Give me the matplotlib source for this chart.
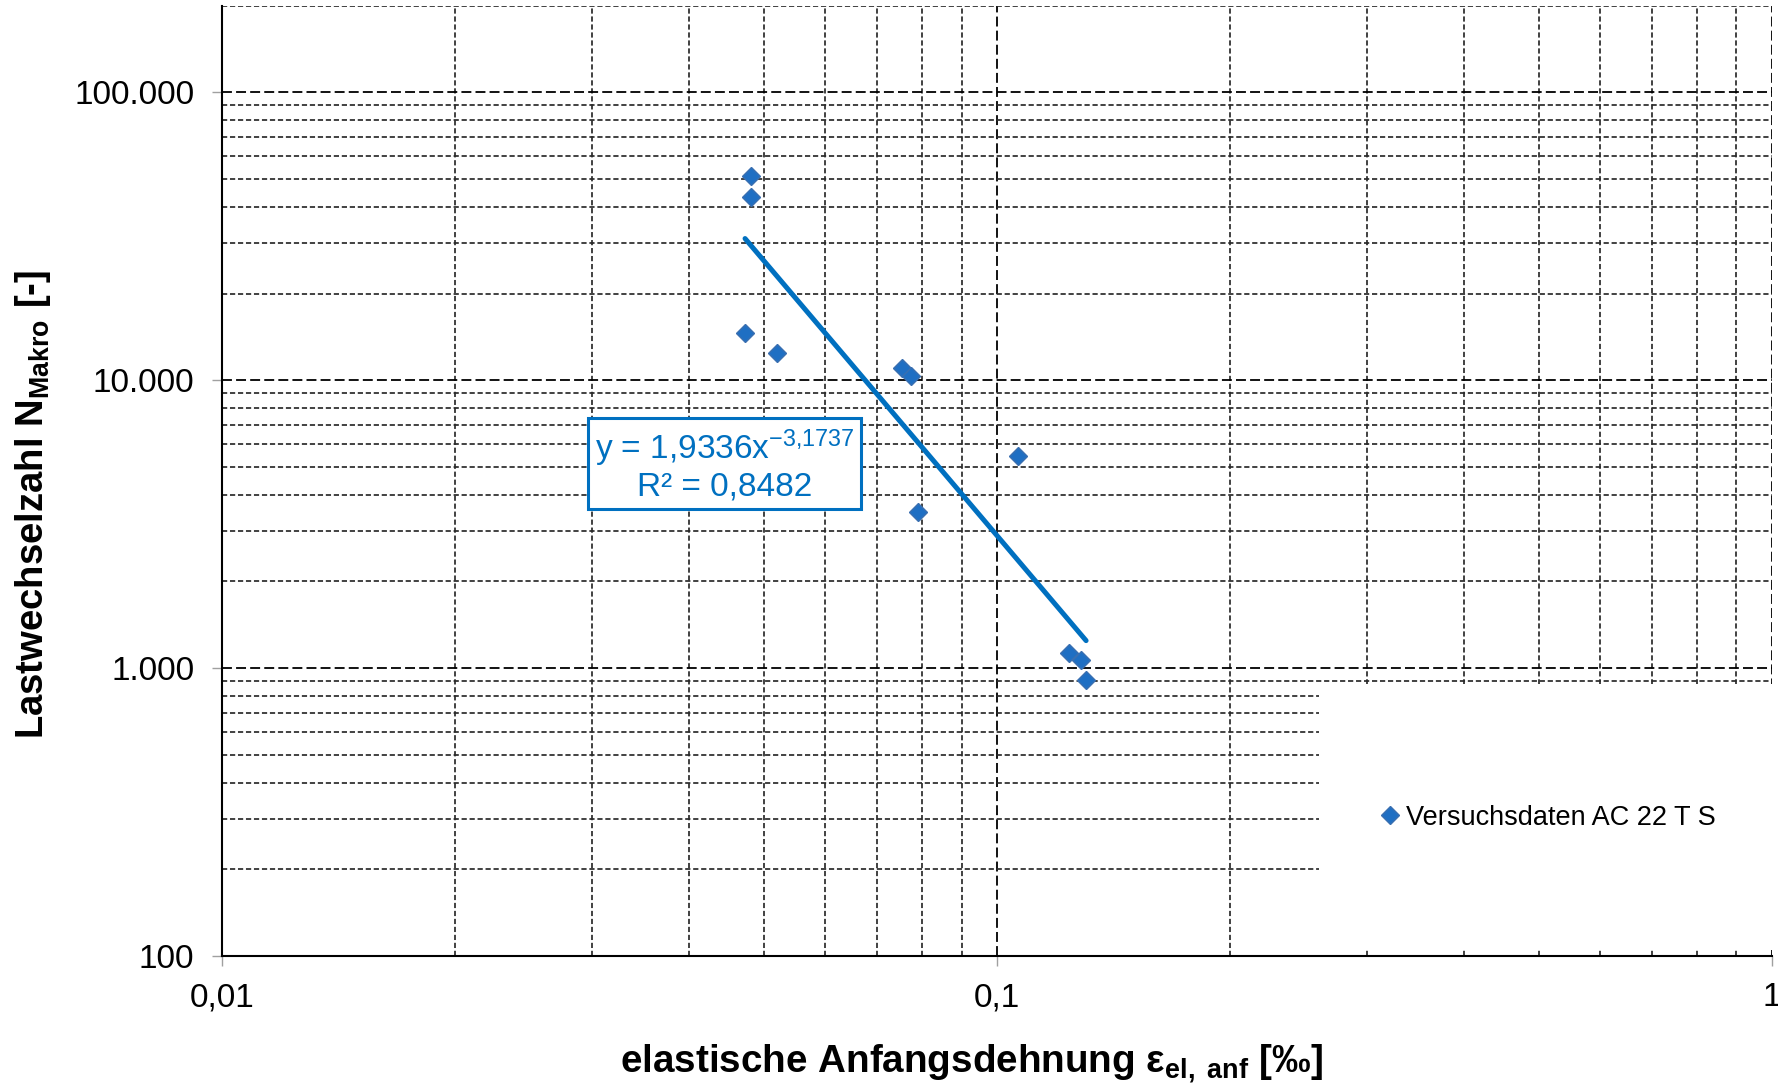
import matplotlib
matplotlib.use("Agg")
import matplotlib.pyplot as plt
import numpy as np
from matplotlib.ticker import FixedLocator, FixedFormatter, NullFormatter
from matplotlib.patches import Rectangle

plt.rcParams['font.family'] = ['Liberation Sans', 'DejaVu Sans']
plt.rcParams['mathtext.fontset'] = 'custom'
plt.rcParams['mathtext.rm'] = 'Liberation Sans'
plt.rcParams['mathtext.bf'] = 'Liberation Sans:bold'
plt.rcParams['mathtext.it'] = 'Liberation Sans:italic'
plt.rcParams['mathtext.default'] = 'regular'

# data
strain = [0.0481, 0.0482, 0.0473, 0.0520, 0.0753, 0.0774, 0.1064, 0.0791, 0.1239, 0.1285, 0.1303]
cycles = [51300, 43200, 14630, 12400, 11050, 10340, 5470, 3470, 1125, 1066, 906]
trend_coef = 1.9336
trend_exp = -3.1737
r2_text = "0,8482"
series_name = "Versuchsdaten AC 22 T S"
x_ticks = [0.01, 0.1, 1]
x_labels = ["0,01", "0,1", "1"]
y_ticks = [100, 1000, 10000, 100000]
y_labels = ["100", "1.000", "10.000", "100.000"]

blue = "#0070C0"

fig = plt.figure(figsize=(17.78, 10.87), dpi=100)
ax = fig.add_axes([0.1249, 0.1206, 0.8717, 0.8742])
ax.set_xscale('log')
ax.set_yscale('log')
ax.set_xlim(0.01, 1)
ax.set_ylim(100, 200000)

ax.xaxis.set_major_locator(FixedLocator(x_ticks))
ax.xaxis.set_major_formatter(FixedFormatter(x_labels))
ax.yaxis.set_major_locator(FixedLocator(y_ticks))
ax.yaxis.set_major_formatter(FixedFormatter(y_labels))
xminor = [m * 10.0**e for e in (-2, -1) for m in range(2, 10)]
yminor = [m * 10.0**e for e in (2, 3, 4, 5) for m in range(2, 10) if m * 10.0**e <= 200000]
ax.xaxis.set_minor_locator(FixedLocator(xminor))
ax.yaxis.set_minor_locator(FixedLocator(yminor))
ax.xaxis.set_minor_formatter(NullFormatter())
ax.yaxis.set_minor_formatter(NullFormatter())

ax.set_axisbelow(True)
ax.grid(which='major', color='#000000', linewidth=1.3, linestyle=(0, (5.5, 2.3)))
ax.grid(which='minor', color='#2a2a2a', linewidth=1.25, linestyle=(0, (3, 1.6)))

ax.tick_params(which='major', direction='out', length=7, width=1, color='#a0a0a0',
               labelsize=24, pad=13)
ax.tick_params(axis='x', which='major', pad=12)
ax.tick_params(which='minor', length=0)

for s in ['top', 'right']:
    ax.spines[s].set_visible(False)
for s in ['left', 'bottom']:
    ax.spines[s].set_linewidth(1.5)
    ax.spines[s].set_color('black')

# white legend area covering gridlines (lower right)
ax.add_patch(Rectangle((0.7075, 0.006), 0.2925, 0.28, transform=ax.transAxes,
                       facecolor='white', edgecolor='none', zorder=1))

# trend line
xt = np.array([min(strain), max(strain)])
yt = trend_coef * xt ** trend_exp
ax.plot(xt, yt, color=blue, linewidth=3.6, solid_capstyle='round', zorder=3)

# data points
ax.plot(strain, cycles, linestyle='none', marker='D', markersize=9,
        markerfacecolor='#1F6FC3', markeredgecolor='#3A6FB0', markeredgewidth=1,
        zorder=4, label=series_name)

leg = ax.legend(loc='center left', bbox_to_anchor=(0.748, 0.1455), frameon=False,
                fontsize=19.5, handlelength=0.6, handletextpad=0.3, borderaxespad=0,
                borderpad=0)

eq = "y = {}x$^{{-3{{,}}1737}}$\nR² = {}".format("1,9336", r2_text)
ax.text(0.3243, 0.5166, eq, transform=ax.transAxes, ha='center', va='center',
        fontsize=24, color=blue, multialignment='center', zorder=5, linespacing=1.1,
        bbox=dict(boxstyle='square,pad=0.2', facecolor='white', edgecolor=blue, linewidth=2.2))

ax.set_xlabel('elastische Anfangsdehnung ε$_{\\mathbf{el,\\ anf}}$ [‰]', fontsize=27.8,
              fontweight='bold')
ax.xaxis.set_label_coords(0.4835, -0.092)
ax.set_ylabel('Lastwechselzahl N$_{\\mathbf{Makro}}$ [-]', fontsize=27.5,
              fontweight='bold')
ax.yaxis.set_label_coords(-0.109, 0.475)

fig.savefig('out.png', dpi=100, facecolor='white')
